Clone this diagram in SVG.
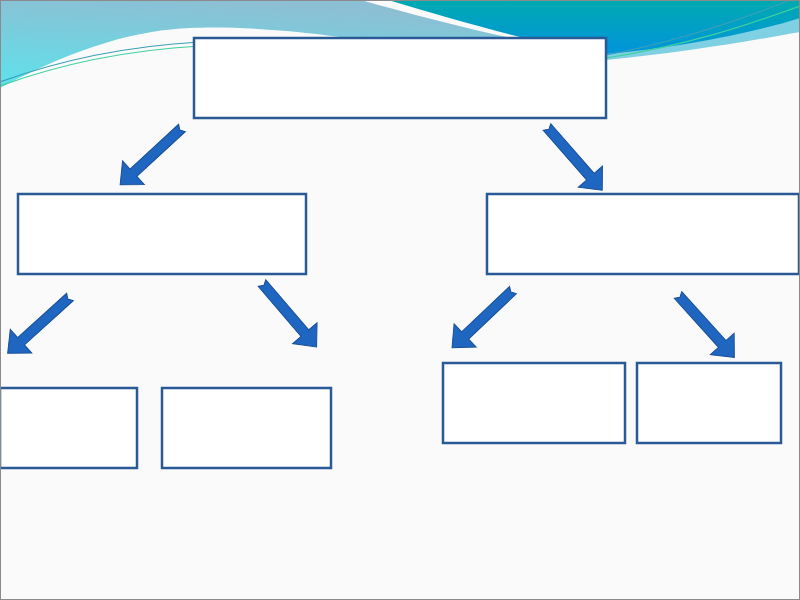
<svg xmlns="http://www.w3.org/2000/svg" xmlns:xlink="http://www.w3.org/1999/xlink" width="800" height="600" viewBox="0 0 800 600">
  <style>
    .box { fill: #ffffff; stroke: #2a5a96; stroke-width: 2.5; }
    .arrow { fill: #1f66c0; stroke: #174f98; stroke-width: 1; stroke-linejoin: miter; }
    .line1 { fill: none; stroke: #3a9fb8; stroke-width: 1.2; }
    .line2 { fill: none; stroke: #3fd0a0; stroke-width: 1.2; }
  </style>
  <defs>
    <linearGradient id="gLeft" x1="0.35" y1="0" x2="0" y2="1">
      <stop offset="0" stop-color="#8cbfd4"/>
      <stop offset="1" stop-color="#5ee2ea"/>
    </linearGradient>
    <linearGradient id="gDark" x1="0" y1="0" x2="0" y2="1">
      <stop offset="0" stop-color="#00aab0"/>
      <stop offset="1" stop-color="#0094dc"/>
    </linearGradient>
    <path id="arrowShape" d="M0,-5 L66,-5 L66,-16 L84,0 L66,16 L66,5 L0,5 L3,0 Z"/>
  </defs>

  <!-- background -->
  <rect x="0" y="0" width="800" height="600" fill="#fafafa"/>

  <!-- decorative waves -->
  <g id="waves">
    <path d="M0,0 H361 C 410,14 465,28 520,40 L 340,37 C 290,30 230,26 190,28 C 140,30 80,45 0,88 Z" fill="url(#gLeft)"/>
    <path d="M500,0 H800 V32 C 750,41 680,53 606,60 L 540,62 Z" fill="#7fd0e2"/>
    <path d="M388,0 H800 V18 C 760,31 680,48 606,54 L 530,52 L 520,37 C 480,27 435,14 388,0 Z" fill="url(#gDark)"/>
    <path class="line1" d="M0,82 C 60,60 130,46 200,42"/>
    <path class="line2" d="M0,86 C 60,64 130,50 200,46"/>
    <path class="line1" d="M606,55 C 680,41 740,20 790,0"/>
    <path class="line2" d="M606,58 C 690,45 750,24 800,6"/>
  </g>

  <!-- connectors -->
  <g id="connectors">
    <use xlink:href="#arrowShape" class="arrow" transform="translate(182,128) rotate(137.4)"/>
    <use xlink:href="#arrowShape" class="arrow" transform="translate(547,127) rotate(48.9)"/>
    <use xlink:href="#arrowShape" class="arrow" transform="translate(70,297) rotate(137.9)"/>
    <use xlink:href="#arrowShape" class="arrow" transform="translate(262,283) rotate(49.5)"/>
    <use xlink:href="#arrowShape" class="arrow" transform="translate(513,290) rotate(136.5)"/>
    <use xlink:href="#arrowShape" class="arrow" transform="translate(678,295) rotate(47.9)"/>
  </g>

  <!-- nodes -->
  <g id="node-top"><rect class="box" x="194" y="38" width="412" height="80"/></g>
  <g id="node-mid-left"><rect class="box" x="18" y="194" width="288" height="80"/></g>
  <g id="node-mid-right"><rect class="box" x="487" y="194" width="312" height="80"/></g>
  <g id="node-bottom-1"><rect class="box" x="0" y="388" width="137" height="80"/></g>
  <g id="node-bottom-2"><rect class="box" x="162" y="388" width="169" height="80"/></g>
  <g id="node-bottom-3"><rect class="box" x="443" y="363" width="182" height="80"/></g>
  <g id="node-bottom-4"><rect class="box" x="637" y="363" width="144" height="80"/></g>

  <!-- frame -->
  <rect x="0.5" y="0.5" width="799" height="599" fill="none" stroke="#8a8a8a" stroke-width="1"/>
</svg>
